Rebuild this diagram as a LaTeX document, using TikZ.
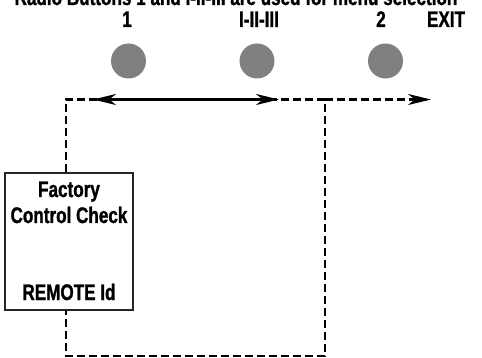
\documentclass[tikz,border=0pt]{standalone}
\usepackage{fontspec}
\setmainfont{Liberation Sans}[FakeStretch=0.76,BoldFeatures={FakeBold=1.2}]
\usetikzlibrary{arrows.meta}
\tikzset{
  lbl/.style={font=\bfseries\fontsize{22.5}{24}\selectfont, inner sep=0pt, anchor=base},
  btn/.style={circle, fill=black!50, minimum size=35pt, inner sep=0pt},
  flow/.style={dashed, dash pattern=on 8pt off 4pt, line width=2.7pt},
  tip/.style={Stealth[length=23pt,width=11pt,inset=7pt]},
  box/.style={draw=black!85, line width=1.5pt, fill=white, minimum width=128pt, minimum height=137pt, inner sep=0pt}
}
\begin{document}
\begin{tikzpicture}[x=1pt,y=-1pt]
\useasboundingbox[clip] (0,0) rectangle (482,358);
\node[lbl] (title) at (236,5) {Radio Buttons 1 and I-II-III are used for menu selection};
\node[lbl] (l1) at (127,27) {1};
\node[lbl] (l2) at (259,27) {I-II-III};
\node[lbl] (l3) at (381,27) {2};
\node[lbl] (l4) at (446,27) {EXIT};
\node[btn] (b1) at (128.5,61) {};
\node[btn] (b2) at (257,61) {};
\node[btn] (b3) at (385.5,61) {};
\node[box] (fc) at (69,241.5) {};
\node[lbl] (t1) at (69,197) {Factory};
\node[lbl] (t2) at (69,223) {Control Check};
\node[lbl] (t3) at (69,300) {REMOTE Id};
\coordinate (tl) at (66,99.5);
\coordinate (tr) at (325,99.5);
\coordinate (br) at (325,356);
\coordinate (bl) at (66,356);
\coordinate (exitend) at (431,99.5);
\coordinate (s1) at (93,99.5);
\coordinate (s2) at (279,99.5);
\draw[flow] (fc.north -| tl) -- (tl) -- (tr) -- (br) -- (bl) -- (fc.south -| bl);
\draw[flow, -{Stealth[length=23pt,width=11pt,inset=7pt]}] (tr) -- (exitend);
\draw[line width=2.8pt, {Stealth[length=23pt,width=11pt,inset=7pt]}-{Stealth[length=23pt,width=11pt,inset=7pt]}] (s1) -- (s2);
\end{tikzpicture}
\end{document}
